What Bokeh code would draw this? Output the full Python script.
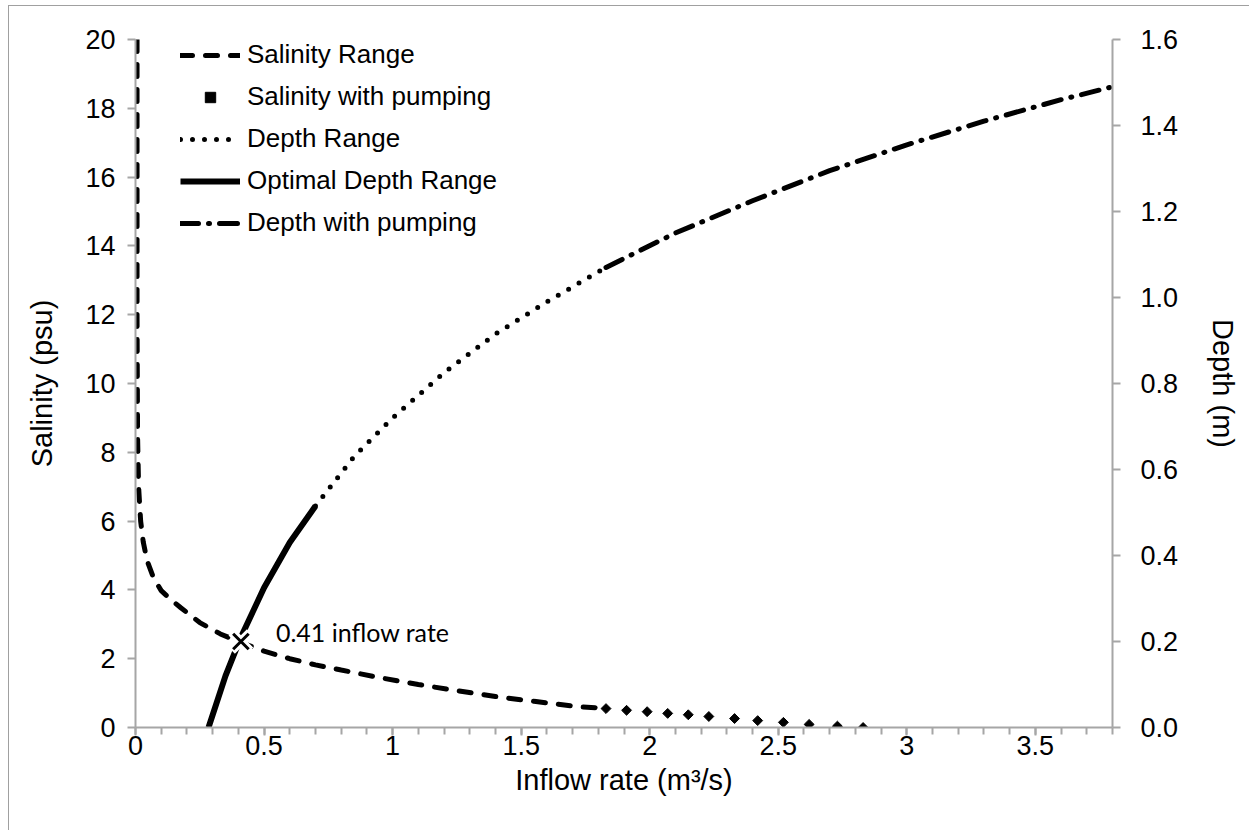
import numpy as np
from bokeh.plotting import figure
from bokeh.models import (Range1d, LinearAxis, FixedTicker, CustomJSTickFormatter,
                          NumeralTickFormatter, Legend, LegendItem)
from bokeh.core.properties import value
from bokeh.embed import file_html
from bokeh.resources import INLINE

# ---- data ----
sal_x = [0.006, 0.006, 0.008, 0.012, 0.02, 0.03, 0.045, 0.07, 0.1, 0.14, 0.175,
         0.25, 0.33, 0.41, 0.5, 0.6, 0.7, 0.8, 0.95, 1.1, 1.25, 1.4, 1.55, 1.73, 1.8]
sal_y = [20.0, 12.0, 8.5, 7.0, 6.0, 5.4, 4.85, 4.35, 3.98, 3.7, 3.49,
         3.05, 2.72, 2.47, 2.22, 2.0, 1.82, 1.67, 1.45, 1.25, 1.07, 0.9, 0.76, 0.6, 0.57]

pump_sal_x = [1.83, 1.91, 1.99, 2.07, 2.15, 2.23, 2.33, 2.42, 2.52, 2.62, 2.73, 2.83]
pump_sal_y = [0.55, 0.50, 0.46, 0.41, 0.37, 0.32, 0.26, 0.20, 0.15, 0.09, 0.04, 0.0]

opt_depth_x = [0.284, 0.35, 0.41, 0.5, 0.6, 0.7]
opt_depth_y = [0.0, 0.12, 0.21, 0.325, 0.43, 0.515]

depth_x = [0.7, 0.85, 1.0, 1.2, 1.4, 1.6, 1.83]
depth_y = [0.515, 0.63, 0.72, 0.825, 0.915, 0.99, 1.07]

pump_depth_x = [1.83, 2.1, 2.4, 2.7, 3.0, 3.3, 3.6, 3.8]
pump_depth_y = [1.07, 1.15, 1.225, 1.295, 1.355, 1.41, 1.46, 1.49]

cross_x = [0.41]
cross_depth = [0.2]
cross_label = ["0.41 inflow rate"]

x_ticks = [0, 0.5, 1, 1.5, 2, 2.5, 3, 3.5]
sal_ticks = [0, 2, 4, 6, 8, 10, 12, 14, 16, 18, 20]
depth_ticks = [0.0, 0.2, 0.4, 0.6, 0.8, 1.0, 1.2, 1.4, 1.6]

AX = "#a6a6a6"
TICK_FONT = "Liberation Sans"
TITLE_FONT = "Liberation Sans"

p = figure(width=1241, height=825, output_backend="svg", toolbar_location=None,
           x_range=Range1d(0, 3.8), y_range=Range1d(0, 20),
           min_border_left=126, min_border_right=138, min_border_top=33,
           min_border_bottom=104)
p.styles = {"margin-left": "8px", "margin-top": "5px",
            "border-left": "1px solid #a0a0a0", "border-top": "1px solid #a0a0a0"}
p.extra_y_ranges = {"depth": Range1d(0, 1.6)}
p.outline_line_color = None
p.xgrid.visible = False
p.ygrid.visible = False
p.background_fill_color = "white"
p.border_fill_color = "white"

# x axis
xa = p.xaxis[0]
xa.ticker = FixedTicker(ticks=x_ticks, minor_ticks=list(np.round(np.arange(0, 3.81, 0.1), 2)))
xa.formatter = CustomJSTickFormatter(code="return String(Math.round(tick*10)/10)")
xa.axis_label = "Inflow rate (m³/s)"

# left axis
ya = p.yaxis[0]
ya.ticker = FixedTicker(ticks=sal_ticks)
ya.axis_label = "Salinity (psu)"

# right axis
ra = LinearAxis(y_range_name="depth", ticker=FixedTicker(ticks=depth_ticks),
                formatter=NumeralTickFormatter(format="0.0"), axis_label="Depth (m)")
p.add_layout(ra, "right")

for ax in (xa, ya, ra):
    ax.axis_line_color = AX
    ax.axis_line_width = 2
    ax.major_tick_line_color = AX
    ax.major_tick_line_width = 2
    ax.major_tick_out = 8
    ax.major_tick_in = 0
    ax.minor_tick_line_color = None
    ax.major_label_text_font = TICK_FONT
    ax.major_label_text_font_size = "27px"
    ax.major_label_text_color = "black"
    ax.axis_label_text_font = TITLE_FONT
    ax.axis_label_text_font_size = "29px"
    ax.axis_label_text_font_style = "normal"
    ax.axis_label_text_color = "black"

xa.minor_tick_line_color = AX
xa.minor_tick_line_width = 2
xa.minor_tick_out = 7
xa.minor_tick_in = 0
xa.major_label_standoff = 0
xa.axis_label_standoff = 6
ya.major_label_standoff = 12
ya.axis_label_standoff = 24
ra.major_label_standoff = 20
ra.axis_label_standoff = 26

# ---- series ----
r_sal = p.line(sal_x, sal_y, line_color="black", line_width=5, line_dash="12 13",
               line_cap="round")
r_pump = p.scatter(pump_sal_x, pump_sal_y, marker="square", angle=np.pi / 4, size=7,
                   fill_color="black", line_color="black")
r_depth = p.line(depth_x, depth_y, y_range_name="depth", line_color="black",
                 line_width=5, line_dash="0 12", line_cap="round")
r_opt = p.line(opt_depth_x, opt_depth_y, y_range_name="depth", line_color="black",
               line_width=6)
r_pdep = p.line(pump_depth_x, pump_depth_y, y_range_name="depth", line_color="black",
                line_width=5, line_dash="18 10 1 10", line_cap="round")

# crossing marker with white halo
p.scatter(cross_x, cross_depth, y_range_name="depth", marker="x", size=26,
          line_color="white", line_width=9)
p.scatter(cross_x, cross_depth, y_range_name="depth", marker="x", size=22,
          line_color="black", line_width=3)
p.text(cross_x, cross_depth, text=cross_label, y_range_name="depth",
       x_offset=35, y_offset=-10, text_font=value("Lato"), text_font_size="25px",
       text_baseline="middle", text_align="left", text_color="black")

legend = Legend(items=[
    LegendItem(label="Salinity Range", renderers=[r_sal]),
    LegendItem(label="Salinity with pumping", renderers=[r_pump]),
    LegendItem(label="Depth Range", renderers=[r_depth]),
    LegendItem(label="Optimal Depth Range", renderers=[r_opt]),
    LegendItem(label="Depth with pumping", renderers=[r_pdep]),
], location=(45, 489))
legend.background_fill_alpha = 0
legend.border_line_color = None
legend.label_text_font = TICK_FONT
legend.label_text_font_size = "26px"
legend.label_text_color = "black"
legend.label_height = 26
legend.glyph_height = 26
legend.glyph_width = 60
legend.spacing = 11
legend.padding = 0
legend.margin = 0
legend.label_standoff = 7
p.add_layout(legend, "center")

open("out.html", "w").write(file_html(p, INLINE))
